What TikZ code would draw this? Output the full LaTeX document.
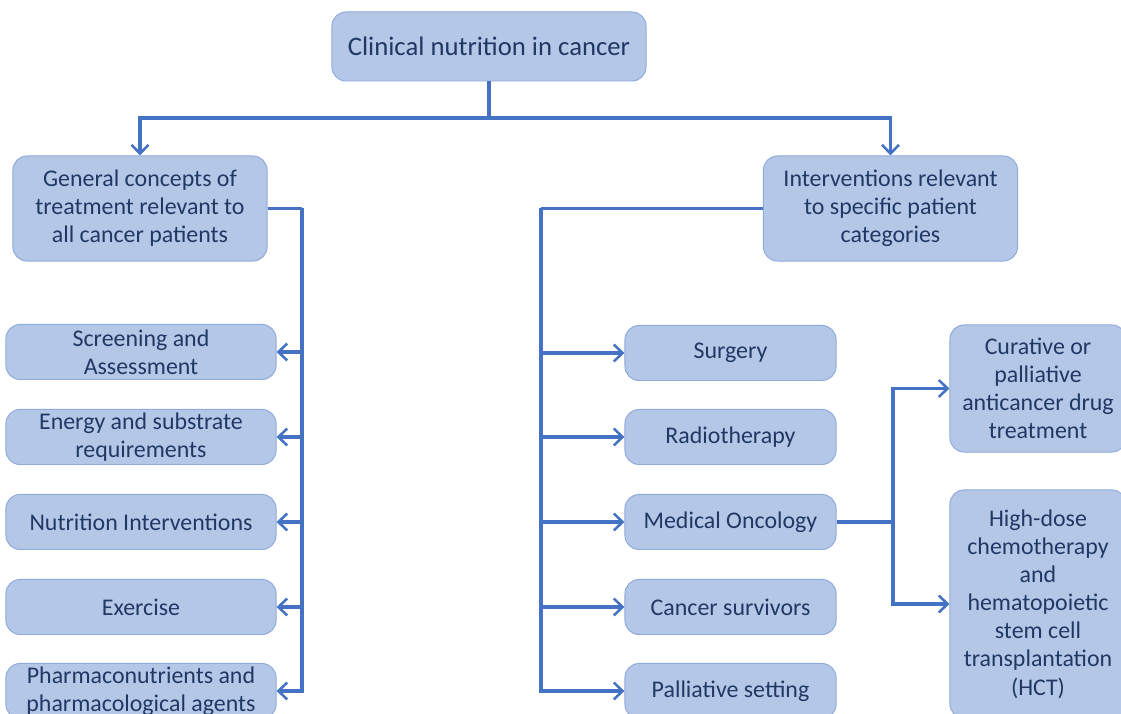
\documentclass[tikz,border=0pt]{standalone}
\usepackage{fontspec}
\setmainfont{Carlito}
\usetikzlibrary{arrows.meta}
\definecolor{boxfill}{HTML}{B4C7E7}
\definecolor{boxline}{HTML}{8FAADC}
\definecolor{linkblue}{HTML}{4472C4}
\definecolor{textblue}{HTML}{203864}
\tikzset{
  box/.style={draw=boxline, line width=0.7pt, fill=boxfill, rounded corners=0.35cm,
    text=textblue, align=center, inner sep=0pt, font=\fontsize{17}{20}\selectfont},
  leftbox/.style={box, minimum width=6.75cm, minimum height=1.375cm},
  midbox/.style={box, minimum width=5.275cm, minimum height=1.375cm},
  link/.style={draw=linkblue, line width=2.4pt},
  arr/.style={link, -{Straight Barb[length=2.2mm,width=4.2mm,line width=1.8pt]}}
}
\begin{document}
\begin{tikzpicture}[x=0.025cm,y=-0.025cm]
\useasboundingbox (0,0) rectangle (1121,714);
\clip (0,0) rectangle (1121,714);
% top and the two branches
\node[box, minimum width=7.85cm, minimum height=1.725cm, font=\fontsize{19}{23}\selectfont] (top) at (489,46.5) {Clinical nutrition in cancer};
\node[box, minimum width=6.35cm, minimum height=2.625cm] (gen) at (140,208.5) {General concepts of\\treatment relevant to\\all cancer patients};
\node[box, minimum width=6.35cm, minimum height=2.625cm] (inter) at (890.5,208.5) {Interventions relevant\\to specific patient\\categories};
% left column
\node[leftbox] (screen) at (141,352) {Screening and\\Assessment};
\node[leftbox] (energy) at (141,437) {Energy and substrate\\requirements};
\node[leftbox] (nutr) at (141,522) {Nutrition Interventions};
\node[leftbox] (exer) at (141,607) {Exercise};
\node[leftbox] (pharm) at (141,691) {Pharmaconutrients and\\pharmacological agents};
% middle column
\node[midbox] (surg) at (730.5,353) {Surgery};
\node[midbox] (radio) at (730.5,437) {Radiotherapy};
\node[midbox] (medonc) at (730.5,522) {Medical Oncology};
\node[midbox] (surv) at (730.5,607) {Cancer survivors};
\node[midbox] (pall) at (730.5,691) {Palliative setting};
% right column
\node[box, minimum width=4.4cm, minimum height=3.175cm] (cur) at (1038,388.5) {Curative or\\palliative\\anticancer drug\\treatment};
\node[box, minimum width=4.4cm, minimum height=5.7cm] (hct) at (1038,604) {High-dose\\chemotherapy\\and\\hematopoietic\\stem cell\\transplantation\\(HCT)};
% connectors
\coordinate (split) at (489,118);
\coordinate (lbus) at (302,208.5);
\coordinate (rbus) at (541,208.5);
\coordinate (obus) at (893,522);
\draw[link] (top.south) -- (split);
\draw[arr] (split) -| (gen.north);
\draw[arr] (split) -| (inter.north);
\draw[link] (gen.east) -- (lbus);
\foreach \n in {screen,energy,nutr,exer,pharm} \draw[arr] (lbus) |- (\n.east);
\draw[link] (inter.west) -- (rbus);
\foreach \n in {surg,radio,medonc,surv,pall} \draw[arr] (rbus) |- (\n.west);
\draw[link] (medonc.east) -- (obus);
\draw[arr] (obus) |- (cur.west);
\draw[arr] (obus) |- (hct.west);
\end{tikzpicture}
\end{document}
